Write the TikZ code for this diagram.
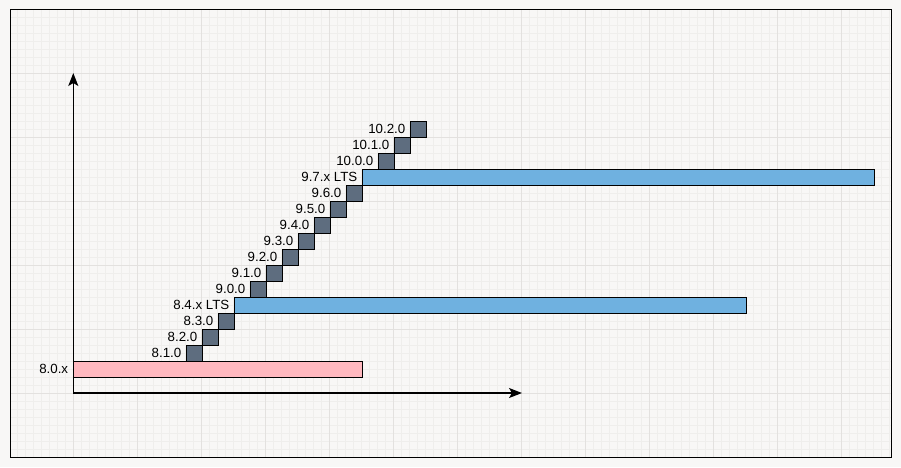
\documentclass[tikz,border=0pt]{standalone}
\usepackage{fontspec}
\setmainfont{Liberation Sans}
\usetikzlibrary{arrows.meta}
\definecolor{bgc}{HTML}{F8F7F6}
\definecolor{minorc}{HTML}{EFEEEC}
\definecolor{majorc}{HTML}{E3E1DF}
\definecolor{sqc}{HTML}{5E6D7F}
\definecolor{bluec}{HTML}{6FB1E0}
\definecolor{pinkc}{HTML}{FFB8BF}
\tikzset{
  verbox/.style={draw=black, line width=0.9pt, fill=sqc, minimum width=16pt, minimum height=16pt, inner sep=0pt, outer sep=0pt, anchor=north west},
  ltsbar/.style={draw=black, line width=0.9pt, fill=bluec, minimum height=16pt, inner sep=0pt, outer sep=0pt, anchor=north west},
  oldbar/.style={draw=black, line width=0.6pt, fill=pinkc, minimum height=16pt, inner sep=0pt, outer sep=0pt, anchor=north west},
  lbl/.style={anchor=east, inner sep=0pt, xshift=-5pt, font=\fontsize{13.3}{15}\selectfont, text=black},
  axis/.style={line width=1.4pt, -{Stealth[length=13pt,width=10pt,inset=3pt]}}
}
\begin{document}
\begin{tikzpicture}[x=1pt,y=-1pt]
\useasboundingbox (0,0) rectangle (901,467);
\fill[bgc] (0,0) rectangle (901,467);
\begin{scope}
\clip (10.3,9.3) rectangle (890.7,456.7);
\foreach \x in {1.5,9.5,...,897.5} \draw[minorc, line width=1pt] (\x,0) -- (\x,467);
\foreach \y in {1,9,...,465} \draw[minorc, line width=1pt] (0,\y) -- (901,\y);
\foreach \x in {9.5,73.5,...,897.5} \draw[majorc, line width=1pt] (\x,0) -- (\x,467);
\foreach \y in {9,73,...,465} \draw[majorc, line width=1pt] (0,\y) -- (901,\y);
\end{scope}
\node[draw=black, line width=0.9pt, minimum width=880.4pt, minimum height=447.4pt, inner sep=0pt, anchor=north west] (frame) at (10.3,9.3) {};

% axes
\coordinate (origin) at (73.3,393);
\coordinate (ytop) at (73.3,73);
\coordinate (xend) at (522,393);

% bars
\node[oldbar, minimum width=289pt] (b80) at (73.3,361.3) {};
\node[lbl] (l80) at (b80.west) {8.0.x};
\node[ltsbar, minimum width=512pt] (b84) at (234.5,297.3) {};
\node[lbl] (l84) at (b84.west) {8.4.x LTS};
\node[ltsbar, minimum width=512pt] (b97) at (362.5,169.3) {};
\node[lbl] (l97) at (b97.west) {9.7.x LTS};

% version squares
\foreach \k/\v in {0/8.1.0,1/8.2.0,2/8.3.0,4/9.0.0,5/9.1.0,6/9.2.0,7/9.3.0,8/9.4.0,9/9.5.0,10/9.6.0,12/10.0.0,13/10.1.0,14/10.2.0}{
  \node[verbox] (s\k) at ({186.5+16*\k},{345.3-16*\k}) {};
  \node[lbl] (t\k) at (s\k.west) {\v};
}

\draw[axis] (origin) -- (ytop);
\draw[axis] (origin) -- (xend);
\end{tikzpicture}
\end{document}
